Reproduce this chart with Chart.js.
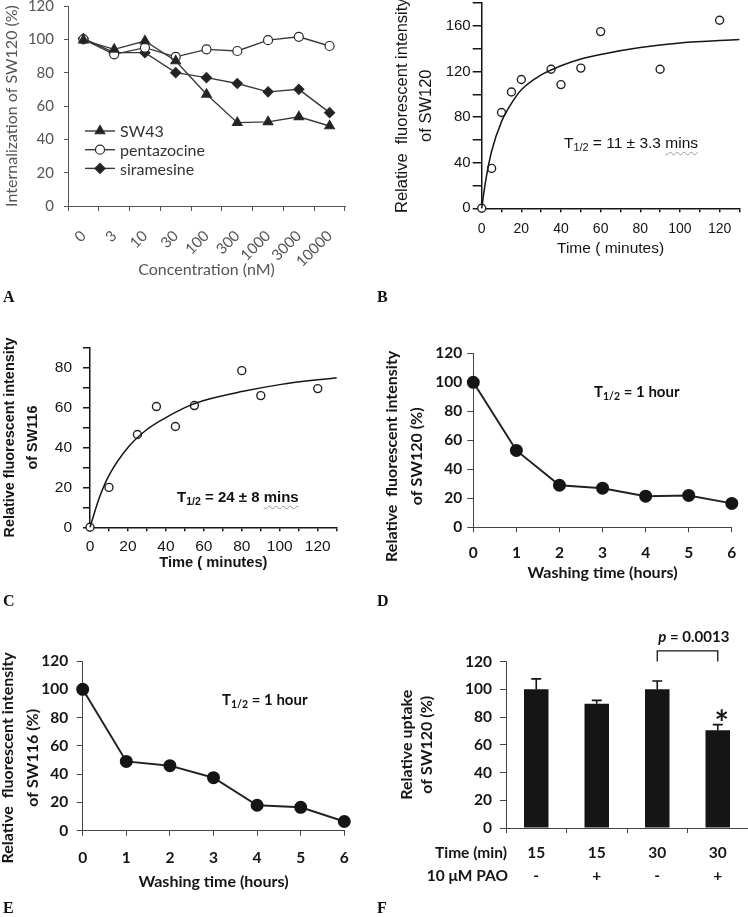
<!DOCTYPE html>
<html>
<head>
<meta charset="utf-8">
<script src="https://cdn.jsdelivr.net/npm/chart.js@4.4.1/dist/chart.umd.min.js"></script>
<style>
  html, body { margin: 0; padding: 0; background: #fff; }
  #fig { position: relative; width: 748px; height: 917px; overflow: hidden; }
  canvas { position: absolute; }
  .lbl { position: absolute; white-space: nowrap; line-height: 1; color: #111; }
  .lbl sub { font-size: 70%; vertical-align: -0.3em; line-height: 0; }
  .wavy { text-decoration: underline wavy #999; text-decoration-thickness: 1px; text-underline-offset: 3px; }
  .panel { font-family: "Liberation Serif", serif; font-weight: bold; font-size: 16px; }
</style>
</head>
<body>
<div id="fig">
  <canvas id="cA"></canvas>
  <canvas id="cB"></canvas>
  <canvas id="cC"></canvas>
  <canvas id="cD"></canvas>
  <canvas id="cE"></canvas>
  <canvas id="cF"></canvas>

  <div class="lbl" style="left:564px;top:134px;font:15.5px 'Liberation Sans'">T<sub>1/2</sub> = 11 ± 3.3 <span class="wavy">mins</span></div>
  <div class="lbl" style="left:177px;top:488px;font:bold 15px 'Liberation Sans'">T<sub>1/2</sub> = 24 ± 8 <span class="wavy">mins</span></div>
  <div class="lbl" style="left:594px;top:382px;font:bold 15px Lato">T<sub>1/2</sub> = 1 hour</div>
  <div class="lbl" style="left:222px;top:690px;font:bold 15px Lato">T<sub>1/2</sub> = 1 hour</div>

  <div class="lbl panel" style="left:3px;top:289px">A</div>
  <div class="lbl panel" style="left:377px;top:289px">B</div>
  <div class="lbl panel" style="left:3px;top:593px">C</div>
  <div class="lbl panel" style="left:377px;top:593px">D</div>
  <div class="lbl panel" style="left:3px;top:900px">E</div>
  <div class="lbl panel" style="left:377px;top:900px">F</div>
</div>

<script>
// A: internalization vs concentration
const concLabels = ['0', '3', '10', '30', '100', '300', '1000', '3000', '10000'];
const sw43 = [99.5, 94, 99, 87, 67, 50, 50.5, 53.5, 48];
const pentazocine = [100, 91, 95, 89.5, 94, 93, 99.5, 101.5, 96];
const siramesine = [100.5, 92, 92, 80, 77, 73.5, 68.5, 70, 56];

const timeB = [0, 5, 10, 15, 20, 35, 40, 50, 60, 90, 120];
const sw120B = [0, 35, 84, 102, 113, 122, 108.5, 123, 155, 122, 165];
const fitTimeB = [0, 2, 5, 10, 15, 20, 30, 40, 50, 60, 80, 100, 130];
const fitB = [0, 24, 50, 76, 92, 104, 117, 125, 131, 135, 141, 145, 148];

// C: SW116 uptake
const timeC = [0, 10, 25, 35, 45, 55, 80, 90, 120];
const sw116C = [0, 20, 46.5, 60.5, 50.5, 61, 78.5, 66, 69.5];
const fitTimeC = [0, 5, 10, 20, 30, 40, 50, 60, 80, 100, 130];
const fitC = [0, 15, 26, 40, 49, 55, 60, 63.5, 68, 71.5, 75];

// D, E: washout
const washHours = [0, 1, 2, 3, 4, 5, 6];
const sw120D = [100, 53, 29, 27, 21.5, 22, 16.5];
const sw116E = [100, 49, 46, 37.5, 18, 16.5, 6.5];

// F: PAO inhibition
const timeMin = ['15', '15', '30', '30'];
const paoDose = ['-', '+', '-', '+'];
const uptake = [100, 89.5, 100, 70.5];
const uptakeErr = [7.5, 2.5, 6, 4];

Chart.defaults.animation = false;
Chart.defaults.responsive = false;
Chart.defaults.plugins.legend.display = false;
Chart.defaults.plugins.tooltip.enabled = false;

const greyText = '#555';
const ink = '#151515';
const arial = 'Liberation Sans';

// size a canvas and work out padding so the plot area lands where the figure has it
function frame(id, box, area) {
  const c = document.getElementById(id);
  c.width = box[2];
  c.height = box[3];
  c.style.left = box[0] + 'px';
  c.style.top = box[1] + 'px';
  return {
    ctx: c.getContext('2d'),
    padding: {left: 0, top: area[1] - box[1], right: box[0] + box[2] - area[2], bottom: 0},
    yWidth: area[0] - box[0],
    xHeight: box[1] + box[3] - area[3]
  };
}

const pts = (xs, ys) => xs.map((x, i) => ({x: x, y: ys[i]}));

function axis(o) {
  const ticks = Object.assign({padding: o.pad, color: o.text, font: o.font, autoSkip: false, maxRotation: 0}, o.ticks || {});
  if (o.step) ticks.stepSize = o.step;
  if (o.cb) ticks.callback = o.cb;
  return {
    type: o.type || 'linear',
    min: o.min, max: o.max,
    offset: !!o.offset,
    afterFit: o.fit,
    border: {color: o.line, width: o.lw || 1},
    grid: {offset: !!o.offset, drawOnChartArea: false, tickLength: o.tick, color: o.line, lineWidth: o.lw || 1},
    ticks: ticks,
    title: o.title ? {display: true, text: o.title, color: o.text, font: o.titleFont,
      padding: o.vertical ? {top: o.tpad, bottom: 0} : {top: 0, bottom: o.tpad}} : {display: false}
  };
}

// ---------- A ----------
function series(label, values, style, fill, r) {
  return {
    label: label, data: values,
    borderColor: '#3a3a3a', borderWidth: 1.4,
    pointStyle: style, pointRadius: r,
    pointBackgroundColor: fill, pointBorderColor: '#2a2a2a', pointBorderWidth: 1.2,
    tension: 0
  };
}

const legendA = {
  id: 'legendA',
  afterDraw(chart) {
    const {ctx, chartArea} = chart;
    ctx.save();
    ctx.font = '16px Lato';
    ctx.textBaseline = 'middle';
    chart.data.datasets.forEach((ds, i) => {
      const x = chartArea.left + 17;
      const y = chartArea.top + 125 + i * 18.7;
      ctx.strokeStyle = ds.borderColor;
      ctx.lineWidth = ds.borderWidth;
      ctx.beginPath();
      ctx.moveTo(x, y);
      ctx.lineTo(x + 30, y);
      ctx.stroke();
      ctx.fillStyle = ds.pointBackgroundColor;
      ctx.strokeStyle = ds.pointBorderColor;
      ctx.lineWidth = ds.pointBorderWidth;
      Chart.helpers.drawPoint(ctx, {pointStyle: ds.pointStyle, radius: ds.pointRadius, borderWidth: ds.pointBorderWidth}, x + 15, y);
      ctx.fillStyle = '#333';
      ctx.fillText(ds.label, x + 35, y + 1);
    });
    ctx.restore();
  }
};

const fA = frame('cA', [0, -20, 374, 315], [68, 6, 345, 206]);
new Chart(fA.ctx, {
  type: 'line',
  data: {
    labels: concLabels,
    datasets: [
      series('SW43', sw43, 'triangle', '#222', 5.5),
      series('pentazocine', pentazocine, 'circle', '#fff', 4.5),
      series('siramesine', siramesine, 'rectRot', '#222', 5)
    ]
  },
  options: {
    layout: {padding: fA.padding},
    scales: {
      x: axis({type: 'category', offset: true, fit: s => { s.height = fA.xHeight; },
        line: '#555', tick: 5, pad: 16, text: greyText, font: {family: 'Lato', size: 15},
        ticks: {minRotation: 45, maxRotation: 45},
        title: 'Concentration (nM)', titleFont: {family: 'Lato', size: 16}, tpad: 15.4}),
      y: axis({min: 0, max: 120, step: 20, fit: s => { s.width = fA.yWidth; },
        line: '#555', tick: 4, pad: 10, text: greyText, font: {family: 'Lato', size: 15},
        title: 'Internalization of SW120 (%)', titleFont: {family: 'Lato', size: 16}, tpad: 2.4, vertical: true})
    }
  },
  plugins: [legendA]
});

// ---------- B / C ----------
function uptakeChart(f, points, fit, o) {
  new Chart(f.ctx, {
    type: 'scatter',
    data: {
      datasets: [
        {data: fit, showLine: true, pointRadius: 0, borderColor: ink, borderWidth: 1.5,
          cubicInterpolationMode: 'monotone', clip: false},
        {data: points, pointRadius: 4, pointBackgroundColor: '#fff', pointBorderColor: '#222',
          pointBorderWidth: 1.4, clip: false}
      ]
    },
    options: {
      layout: {padding: f.padding},
      scales: {
        x: axis({min: 0, max: 130, step: 10, cb: v => v % 20 === 0 ? v : '',
          fit: s => { s.height = f.xHeight; }, line: ink, lw: 1.5, tick: 4, pad: o.xpad,
          text: ink, font: o.xfont, title: 'Time ( minutes)', titleFont: o.xtitleFont, tpad: o.xtpad}),
        y: axis({min: 0, max: o.ymax, step: o.ystep, cb: v => v % (2 * o.ystep) === 0 ? v : '',
          fit: s => { s.width = f.yWidth; }, line: ink, lw: 1.5, tick: o.ytick, pad: o.ypad,
          text: ink, font: o.yfont, title: o.ytitle, titleFont: o.ytitleFont, tpad: o.ytpad, vertical: true})
      }
    }
  });
}

const fB = frame('cB', [374, -20, 374, 310], [481.7, 3.1, 741.7, 208.3]);
uptakeChart(fB, pts(timeB, sw120B), pts(fitTimeB, fitB), {
  ymax: 180, ystep: 20, ytick: 9, ypad: 2,
  xfont: {family: arial, size: 14}, xpad: 8.6,
  xtitleFont: {family: arial, size: 15.5}, xtpad: 32.4,
  yfont: {family: arial, size: 15},
  ytitle: ['Relative  fluorescent intensity', 'of SW120'],
  ytitleFont: {family: arial, size: 16.5, lineHeight: 1.455}, ytpad: 16
});

const fC = frame('cC', [-10, 310, 384, 285], [90, 347.7, 336.7, 527.3]);
uptakeChart(fC, pts(timeC, sw116C), pts(fitTimeC, fitC), {
  ymax: 90, ystep: 10, ytick: 7, ypad: 11,
  xfont: {family: arial, size: 15.5}, xpad: 6.1,
  xtitleFont: {family: arial, size: 14.7, weight: 'bold'}, xtpad: 22.9,
  yfont: {family: arial, size: 15.5},
  ytitle: ['Relative fluorescent intensity', 'of SW116'],
  ytitleFont: {family: arial, size: 14.4, weight: 'bold', lineHeight: 1.6}, ytpad: 8.5
});

// ---------- D / E ----------
// the y titles in D and E sit a little below the middle of the axis; trailing
// en spaces lengthen the centred string so the visible words move down
function washChart(f, values, o) {
  const bold = {family: 'Lato', size: 15.5, weight: 'bold'};
  const pad = '\u2002'.repeat(o.shift);
  new Chart(f.ctx, {
    type: 'scatter',
    data: {
      datasets: [{data: pts(washHours, values), showLine: true, borderColor: '#222', borderWidth: 2,
        pointRadius: 5.5, pointBackgroundColor: ink, pointBorderColor: ink, clip: false}]
    },
    options: {
      layout: {padding: f.padding},
      scales: {
        x: axis({min: 0, max: 6, step: 1, fit: s => { s.height = f.xHeight; },
          line: '#444', tick: 5, pad: o.xpad, text: ink, font: bold,
          title: 'Washing time (hours)', titleFont: {family: 'Lato', size: 16, weight: 'bold'}, tpad: o.xtpad}),
        y: axis({min: 0, max: 120, step: 20, fit: s => { s.width = f.yWidth; },
          line: '#444', tick: 6, pad: o.ypad, text: ink, font: bold,
          title: ['Relative  fluorescent intensity' + pad, o.compound + ' (%)' + pad],
          titleFont: {family: 'Lato', size: 16, weight: 'bold', lineHeight: 1.5625}, tpad: 5.8, vertical: true})
      }
    }
  });
}

const fD = frame('cD', [374, 280, 374, 310], [473.3, 353.3, 736.7, 527.3]);
washChart(fD, sw120D, {compound: 'of SW120', xpad: 11.7, xtpad: 7.1, ypad: 5, shift: 4});

const fE = frame('cE', [-10, 590, 384, 307], [82.7, 661, 344.3, 830.7]);
washChart(fE, sw116E, {compound: 'of SW116', xpad: 13.3, xtpad: 5.7, ypad: 8.4, shift: 3});

// ---------- F ----------
const extrasF = {
  id: 'extrasF',
  afterDraw(chart) {
    const {ctx, scales: {x, y}} = chart;
    const bars = chart.getDatasetMeta(0).data;
    ctx.save();
    ctx.strokeStyle = ink;
    ctx.lineWidth = 1.6;
    bars.forEach((b, i) => {
      const top = y.getPixelForValue(uptake[i] + uptakeErr[i]);
      ctx.beginPath();
      ctx.moveTo(b.x, b.y);
      ctx.lineTo(b.x, top);
      ctx.moveTo(b.x - 5, top);
      ctx.lineTo(b.x + 5, top);
      ctx.stroke();
    });

    // significance bracket between the two 30 min bars
    const x1 = bars[2].x, x2 = bars[3].x;
    const yTop = y.getPixelForValue(127.6), yLeg = y.getPixelForValue(120);
    ctx.lineWidth = 1.3;
    ctx.beginPath();
    ctx.moveTo(x1, yLeg);
    ctx.lineTo(x1, yTop);
    ctx.lineTo(x2, yTop);
    ctx.lineTo(x2, yLeg);
    ctx.stroke();

    ctx.fillStyle = ink;
    ctx.textBaseline = 'middle';
    const ty = y.getPixelForValue(137.7);
    ctx.font = 'italic bold 15px Lato';
    ctx.fillText('p', x1 + 1, ty);
    const pw = ctx.measureText('p').width;
    ctx.font = 'bold 15px Lato';
    ctx.fillText(' = 0.0013', x1 + 1 + pw, ty);

    // asterisk over the PAO bar
    ctx.font = 'bold 34px Lato';
    ctx.textAlign = 'center';
    ctx.textBaseline = 'alphabetic';
    const m = ctx.measureText('*');
    const cy = y.getPixelForValue(81.5);
    ctx.fillText('*', bars[3].x + 4, cy + (m.actualBoundingBoxAscent - m.actualBoundingBoxDescent) / 2);

    // row captions for the two tick label lines
    ctx.font = 'bold 15.5px Lato';
    ctx.textAlign = 'right';
    ctx.textBaseline = 'middle';
    const line0 = x.top + 5 + 8.5 + 11.5;
    ctx.fillText('Time (min)', x.left + 1, line0);
    ctx.fillText('10 \u03BCM PAO', x.left + 2, line0 + 23);
    ctx.restore();
  }
};

const fF = frame('cF', [374, 600, 374, 317], [506, 661.5, 748, 828]);
new Chart(fF.ctx, {
  type: 'bar',
  data: {
    labels: timeMin.map((t, i) => [t, paoDose[i]]),
    datasets: [{data: uptake, backgroundColor: ink, barPercentage: 0.405, categoryPercentage: 1}]
  },
  options: {
    layout: {padding: fF.padding},
    scales: {
      x: axis({type: 'category', offset: true, fit: s => { s.height = fF.xHeight; },
        line: '#444', tick: 5, pad: 8.5, text: ink,
        font: {family: 'Lato', size: 15.5, weight: 'bold', lineHeight: 1.48}}),
      y: axis({min: 0, max: 120, step: 20, fit: s => { s.width = fF.yWidth; },
        line: '#444', tick: 6, pad: 8, text: ink, font: {family: 'Lato', size: 15.5, weight: 'bold'},
        title: ['Relative uptake', 'of SW120 (%)'],
        titleFont: {family: 'Lato', size: 16, weight: 'bold', lineHeight: 1.25}, tpad: 23.3, vertical: true})
    }
  },
  plugins: [extrasF]
});
</script>
</body>
</html>
